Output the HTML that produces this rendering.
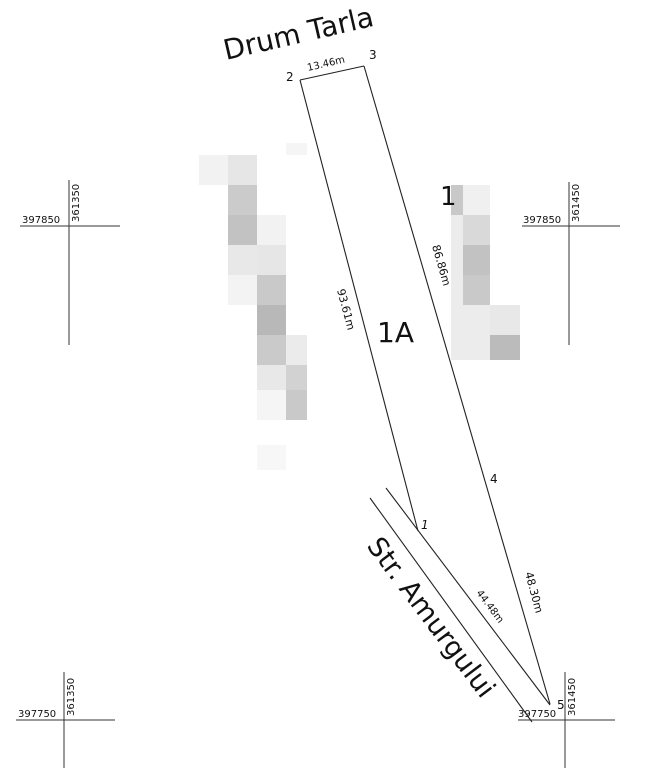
<!DOCTYPE html>
<html><head><meta charset="utf-8"><style>
html,body{margin:0;padding:0;background:#fff;}
svg{display:block;}
text{font-family:"DejaVu Sans","Liberation Sans",sans-serif;fill:#111;}
</style></head><body>
<svg width="654" height="768" viewBox="0 0 654 768" xmlns="http://www.w3.org/2000/svg">
<rect width="654" height="768" fill="#fff"/>
<!-- blur blocks left -->
<g>
<rect x="199" y="155" width="29" height="30" fill="#f2f2f2"/>
<rect x="228" y="155" width="29" height="30" fill="#e6e6e6"/>
<rect x="228" y="185" width="29" height="30" fill="#cbcbcb"/>
<rect x="228" y="215" width="29" height="30" fill="#c2c2c2"/>
<rect x="228" y="245" width="29" height="30" fill="#e8e8e8"/>
<rect x="228" y="275" width="29" height="30" fill="#f3f3f3"/>
<rect x="257" y="215" width="29" height="30" fill="#f2f2f2"/>
<rect x="257" y="245" width="29" height="30" fill="#e6e6e6"/>
<rect x="257" y="275" width="29" height="30" fill="#c9c9c9"/>
<rect x="257" y="305" width="29" height="30" fill="#b8b8b8"/>
<rect x="257" y="335" width="29" height="30" fill="#cacaca"/>
<rect x="257" y="365" width="29" height="25" fill="#e8e8e8"/>
<rect x="257" y="390" width="29" height="30" fill="#f5f5f5"/>
<rect x="286" y="335" width="21" height="30" fill="#ebebeb"/>
<rect x="286" y="365" width="21" height="25" fill="#d2d2d2"/>
<rect x="286" y="390" width="21" height="30" fill="#c9c9c9"/>
<rect x="286" y="143" width="21" height="12" fill="#f5f5f5"/>
<rect x="257" y="445" width="29" height="25" fill="#f7f7f7"/>
</g>
<!-- blur blocks right -->
<g>
<rect x="451" y="185" width="12" height="30" fill="#c8c8c8"/>
<rect x="451" y="215" width="12" height="145" fill="#ececec"/>
<rect x="463" y="185" width="27" height="30" fill="#f0f0f0"/>
<rect x="463" y="215" width="27" height="30" fill="#d9d9d9"/>
<rect x="463" y="245" width="27" height="30" fill="#c2c2c2"/>
<rect x="463" y="275" width="27" height="30" fill="#c9c9c9"/>
<rect x="463" y="305" width="27" height="55" fill="#ececec"/>
<rect x="490" y="305" width="30" height="30" fill="#e8e8e8"/>
<rect x="490" y="335" width="30" height="25" fill="#bbbbbb"/>
</g>
<text x="440" y="205" font-size="26">1</text>
<!-- crosshairs -->
<g stroke="#333" stroke-width="1" fill="none">
<line x1="69" y1="180" x2="69" y2="345"/><line x1="20" y1="226" x2="120" y2="226"/>
<line x1="569" y1="182" x2="569" y2="345"/><line x1="522" y1="226" x2="620" y2="226"/>
<line x1="64" y1="672" x2="64" y2="768"/><line x1="16" y1="720" x2="115" y2="720"/>
<line x1="565" y1="672" x2="565" y2="768"/><line x1="518" y1="720" x2="615" y2="720"/>
</g>
<g font-size="10">
<text x="22" y="223">397850</text>
<text transform="translate(79,222) rotate(-90)">361350</text>
<text x="523" y="223">397850</text>
<text transform="translate(579,222) rotate(-90)">361450</text>
<text x="18" y="717">397750</text>
<text transform="translate(74,716) rotate(-90)">361350</text>
<text x="518" y="717">397750</text>
<text transform="translate(575,716) rotate(-90)">361450</text>
</g>
<!-- parcel lines -->
<g stroke="#222" stroke-width="1.1" fill="none">
<line x1="300" y1="80" x2="364" y2="66"/>
<line x1="300" y1="80" x2="418" y2="531"/>
<line x1="364" y1="66" x2="550" y2="704"/>
<line x1="386" y1="488" x2="550" y2="705"/>
<line x1="370" y1="498" x2="532" y2="722"/>
</g>
<text transform="translate(226,60) rotate(-13)" font-size="28">Drum Tarla</text>
<text transform="translate(308,71) rotate(-13)" font-size="10">13.46m</text>
<text x="286" y="81" font-size="12">2</text>
<text x="369" y="59" font-size="12">3</text>
<text transform="translate(337,290) rotate(75)" font-size="11">93.61m</text>
<text transform="translate(432,246) rotate(74)" font-size="11">86.86m</text>
<text x="377" y="342" font-size="28">1A</text>
<text x="490" y="483" font-size="12">4</text>
<text x="421" y="529" font-size="12" font-style="italic">1</text>
<text transform="translate(476,593) rotate(53)" font-size="10">44.48m</text>
<text transform="translate(525,573) rotate(75)" font-size="11">48.30m</text>
<text transform="translate(366,546) rotate(53)" font-size="27">Str. Amurgului</text>
<text x="557" y="709" font-size="12">5</text>
</svg>
</body></html>
